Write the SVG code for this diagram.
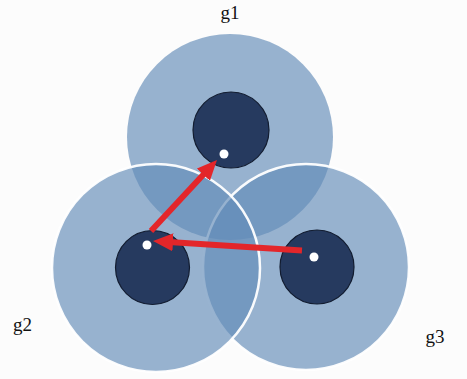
<svg xmlns="http://www.w3.org/2000/svg" width="467" height="379" viewBox="0 0 467 379">
<style>
.zone{fill:#628bb7;fill-opacity:0.66}
.edge{stroke:#ffffff;stroke-width:2.5;stroke-opacity:0.95}
.core{fill:#263a5f;stroke:#121c30;stroke-width:1.2}
.dot{fill:#ffffff}
.lbl{font-family:"Liberation Serif",serif;font-size:19px;fill:#111111}
.arrow{stroke:#e3262a;stroke-width:6;fill:none;stroke-linecap:butt}
</style>
<defs>
<marker id="ah" viewBox="0 0 20 18" markerUnits="userSpaceOnUse" markerWidth="20" markerHeight="18" refX="8" refY="9" orient="auto">
<path d="M0,0 L20,9 L0,18 z" fill="#e3262a"/>
</marker>
</defs>
<rect width="467" height="379" fill="#fcfcfc"/>
<g id="g1-zone"><circle class="zone" cx="230" cy="137" r="103"/></g>
<g id="g3-zone"><circle class="zone edge" cx="306" cy="267" r="103"/></g>
<g id="g2-zone"><circle class="zone edge" cx="156" cy="268" r="104"/></g>
<g id="g1"><circle class="core" cx="231" cy="130" r="38"/><circle class="dot" cx="224" cy="154" r="4.5"/><text class="lbl" x="230" y="19" text-anchor="middle">g1</text></g>
<g id="g2"><circle class="core" cx="152.5" cy="267.5" r="37"/><circle class="dot" cx="147" cy="245" r="4.5"/><text class="lbl" x="22.5" y="331" text-anchor="middle">g2</text></g>
<g id="g3"><circle class="core" cx="317" cy="267" r="37"/><circle class="dot" cx="314" cy="257" r="4.5"/><text class="lbl" x="435" y="343" text-anchor="middle">g3</text></g>
<g id="connectors">
<path class="arrow" d="M151,231 L208.8,168.8" marker-end="url(#ah)"/>
<path class="arrow" d="M302,250.5 L165,241.8" marker-end="url(#ah)"/>
</g>
</svg>
